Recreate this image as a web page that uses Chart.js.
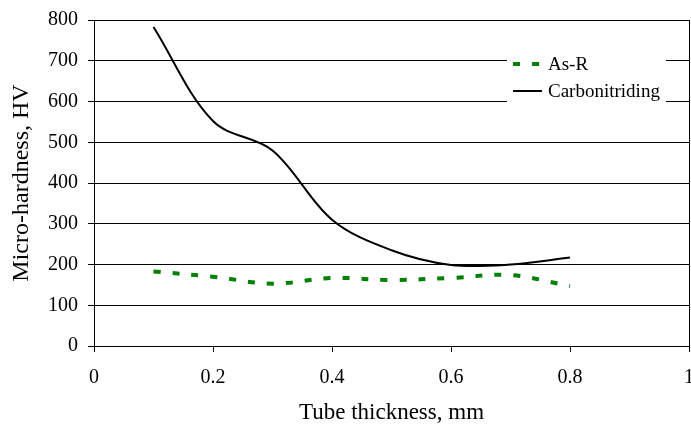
<!DOCTYPE html>
<html>
<head>
<meta charset="utf-8">
<script src="https://cdn.jsdelivr.net/npm/chart.js@4/dist/chart.umd.min.js"></script>
<style>
  html, body { margin: 0; padding: 0; background: #fff; }
  #wrap { width: 691px; height: 428px; }
</style>
</head>
<body>
<div id="wrap"><canvas id="chart" width="691" height="428"></canvas></div>
<script>
// values
const thickness = [0.1, 0.2, 0.3, 0.4, 0.5, 0.6, 0.7, 0.8];
const asR = [183, 170, 153, 167, 162, 167, 174, 147];
const carbonitriding = [783, 552, 480, 310, 235, 199, 200, 217];
const xTicks = [0, 0.2, 0.4, 0.6, 0.8, 1];
const yTicks = [0, 100, 200, 300, 400, 500, 600, 700, 800];

const serif = "'Liberation Serif', 'Times New Roman', serif";

function toPoints(xs, ys) {
  return xs.map((x, i) => ({ x: x, y: ys[i] }));
}

// legend sits inside the plot, on a white box
const innerLegend = {
  id: 'innerLegend',
  afterDraw(chart, args, opts) {
    const ctx = chart.ctx;
    ctx.save();
    ctx.fillStyle = '#fff';
    ctx.fillRect(opts.boxX, opts.boxY, opts.boxW, opts.boxH);
    ctx.font = '19px ' + serif;
    ctx.textBaseline = 'middle';
    ctx.fillStyle = '#000';
    chart.data.datasets.forEach((ds, i) => {
      const y = opts.firstY + i * opts.rowGap;
      ctx.beginPath();
      ctx.strokeStyle = ds.borderColor;
      ctx.lineWidth = ds.borderWidth;
      ctx.setLineDash(ds.borderDash || []);
      ctx.moveTo(opts.lineX, y);
      ctx.lineTo(opts.lineX + opts.lineW, y);
      ctx.stroke();
      ctx.setLineDash([]);
      ctx.fillText(ds.label, opts.textX, y + 1);
    });
    ctx.restore();
  }
};

new Chart(document.getElementById('chart'), {
  type: 'line',
  data: {
    datasets: [
      {
        label: 'As-R',
        data: toPoints(thickness, asR),
        borderColor: '#008000',
        borderWidth: 4,
        borderDash: [7, 12],
        pointRadius: 0,
        tension: 0.35,
        fill: false
      },
      {
        label: 'Carbonitriding',
        data: toPoints(thickness, carbonitriding),
        borderColor: '#000',
        borderWidth: 2,
        pointRadius: 0,
        tension: 0.35,
        fill: false
      }
    ]
  },
  options: {
    responsive: false,
    animation: false,
    devicePixelRatio: 1,
    layout: { padding: { top: 20, right: 2, left: 0, bottom: 0 } },
    plugins: {
      legend: { display: false },
      tooltip: { enabled: false },
      innerLegend: {
        boxX: 507, boxY: 46, boxW: 159, boxH: 66,
        lineX: 513, lineW: 29, textX: 548,
        firstY: 64, rowGap: 27
      }
    },
    scales: {
      x: {
        type: 'linear',
        min: 0,
        max: 1,
        afterBuildTicks: (s) => { s.ticks = xTicks.map(v => ({ value: v })); },
        afterFit: (s) => {
          s.height = 82;
          s.paddingLeft = 0;
          s.paddingRight = 0;
        },
        border: { display: true, color: '#000', width: 1 },
        grid: {
          drawOnChartArea: true,
          color: (c) => (c.tick && c.tick.value === 1 ? '#000' : 'rgba(0,0,0,0)'),
          tickColor: '#000',
          tickLength: 6
        },
        ticks: {
          color: '#000',
          font: { family: serif, size: 20 },
          padding: 14,
          maxRotation: 0,
          callback: (v) => String(+v.toFixed(1))
        },
        title: {
          display: true,
          text: 'Tube thickness, mm',
          color: '#000',
          font: { family: serif, size: 23 },
          padding: { top: 0, bottom: 1 }
        }
      },
      y: {
        min: 0,
        max: 800,
        afterBuildTicks: (s) => { s.ticks = yTicks.map(v => ({ value: v })); },
        afterFit: (s) => {
          s.width = 94;
          s.paddingTop = 0;
          s.paddingBottom = 0;
        },
        border: { display: true, color: '#000', width: 1 },
        grid: {
          color: '#000',
          lineWidth: 1,
          tickColor: '#000',
          tickLength: 6
        },
        ticks: {
          color: '#000',
          font: { family: serif, size: 20 },
          padding: 10
        },
        title: {
          display: true,
          text: 'Micro-hardness, HV',
          color: '#000',
          font: { family: serif, size: 24 },
          padding: { top: 7, bottom: 0 }
        }
      }
    }
  },
  plugins: [innerLegend]
});
</script>
</body>
</html>
